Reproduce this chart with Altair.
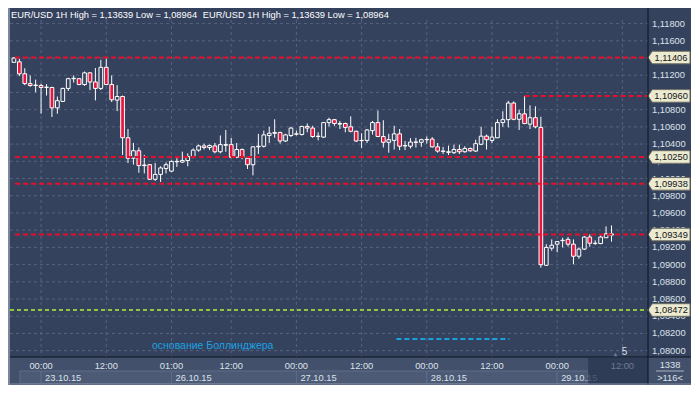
import altair as alt
import pandas as pd

# ---------------- data ----------------
idx = list(range(-5, 106))
open_ = [1.11350, 1.11356, 1.11217, 1.11103, 1.11081, 1.11081, 1.11058, 1.11058, 1.10821, 1.10896,
         1.11047, 1.11160, 1.11160, 1.11092, 1.11228, 1.11122, 1.11047, 1.11292, 1.11092, 1.10911,
         1.10953, 1.10474, 1.10236, 1.10323, 1.10150, 1.10161, 1.09991, 1.10048, 1.10116, 1.10086,
         1.10199, 1.10191, 1.10209, 1.10255, 1.10330, 1.10379, 1.10360, 1.10379, 1.10311, 1.10394,
         1.10394, 1.10247, 1.10337, 1.10236, 1.10160, 1.10368, 1.10375, 1.10500, 1.10526, 1.10534,
         1.10436, 1.10500, 1.10519, 1.10511, 1.10605, 1.10586, 1.10488, 1.10481, 1.10650, 1.10684,
         1.10639, 1.10639, 1.10601, 1.10549, 1.10443, 1.10443, 1.10556, 1.10650, 1.10488, 1.10421,
         1.10443, 1.10519, 1.10379, 1.10375, 1.10424, 1.10421, 1.10451, 1.10458, 1.10368, 1.10319,
         1.10311, 1.10300, 1.10337, 1.10311, 1.10349, 1.10319, 1.10398, 1.10492, 1.10443, 1.10473,
         1.10650, 1.10684, 1.10877, 1.10688, 1.10752, 1.10632, 1.10707, 1.10594, 1.08992, 1.09191,
         1.09237, 1.09282, 1.09293, 1.09237, 1.09097, 1.09180, 1.09320, 1.09248, 1.09244, 1.09312,
         1.09342]
high = [1.11412, 1.11394, 1.11281, 1.11198, 1.11149, 1.11103, 1.11096, 1.11066, 1.10953, 1.11055,
        1.11171, 1.11198, 1.11168, 1.11243, 1.11232, 1.11284, 1.11379, 1.11394, 1.11198, 1.11085,
        1.10964, 1.10576, 1.10414, 1.10361, 1.10274, 1.10165, 1.10180, 1.10142, 1.10187, 1.10210,
        1.10236, 1.10312, 1.10292, 1.10349, 1.10394, 1.10405, 1.10394, 1.10413, 1.10500, 1.10564,
        1.10473, 1.10413, 1.10349, 1.10247, 1.10375, 1.10519, 1.10556, 1.10601, 1.10688, 1.10545,
        1.10519, 1.10601, 1.10556, 1.10613, 1.10639, 1.10613, 1.10537, 1.10658, 1.10707, 1.10692,
        1.10669, 1.10650, 1.10722, 1.10556, 1.10526, 1.10575, 1.10669, 1.10790, 1.10677, 1.10519,
        1.10613, 1.10575, 1.10436, 1.10469, 1.10473, 1.10462, 1.10488, 1.10481, 1.10413, 1.10368,
        1.10383, 1.10394, 1.10394, 1.10375, 1.10360, 1.10451, 1.10601, 1.10511, 1.10601, 1.10688,
        1.10782, 1.10903, 1.10896, 1.10801, 1.10960, 1.10850, 1.10839, 1.10718, 1.09237, 1.09293,
        1.09274, 1.09312, 1.09320, 1.09293, 1.09199, 1.09331, 1.09350, 1.09282, 1.09339, 1.09444,
        1.09455]
low = [1.11345, 1.11190, 1.11085, 1.11066, 1.11002, 1.10753, 1.10964, 1.10715, 1.10753, 1.10890,
       1.11017, 1.11115, 1.11085, 1.11077, 1.11028, 1.10907, 1.11028, 1.11085, 1.10889, 1.10783,
       1.10274, 1.10180, 1.10161, 1.10067, 1.10059, 1.09984, 1.09972, 1.09961, 1.10059, 1.10074,
       1.10135, 1.10180, 1.10142, 1.10236, 1.10311, 1.10337, 1.10330, 1.10292, 1.10292, 1.10311,
       1.10236, 1.10236, 1.10224, 1.10111, 1.10036, 1.10285, 1.10360, 1.10413, 1.10473, 1.10405,
       1.10424, 1.10481, 1.10500, 1.10500, 1.10537, 1.10473, 1.10443, 1.10473, 1.10605, 1.10613,
       1.10575, 1.10537, 1.10537, 1.10424, 1.10356, 1.10413, 1.10511, 1.10481, 1.10360, 1.10300,
       1.10337, 1.10330, 1.10330, 1.10349, 1.10360, 1.10368, 1.10405, 1.10360, 1.10300, 1.10285,
       1.10273, 1.10285, 1.10285, 1.10300, 1.10311, 1.10308, 1.10387, 1.10337, 1.10413, 1.10473,
       1.10601, 1.10594, 1.10677, 1.10564, 1.10632, 1.10575, 1.10583, 1.08965, 1.08984, 1.09161,
       1.09143, 1.09199, 1.09210, 1.09003, 1.09067, 1.09169, 1.09207, 1.09229, 1.09237, 1.09312,
       1.09267]
close = [1.11400, 1.11217, 1.11103, 1.11081, 1.11085, 1.11058, 1.11062, 1.10821, 1.10904, 1.11047,
         1.11160, 1.11165, 1.11092, 1.11228, 1.11122, 1.11047, 1.11292, 1.11092, 1.10915, 1.10953,
         1.10474, 1.10236, 1.10323, 1.10150, 1.10157, 1.09991, 1.10048, 1.10123, 1.10161, 1.10199,
         1.10195, 1.10210, 1.10255, 1.10330, 1.10379, 1.10360, 1.10383, 1.10311, 1.10394, 1.10387,
         1.10247, 1.10337, 1.10247, 1.10160, 1.10368, 1.10375, 1.10507, 1.10526, 1.10534, 1.10436,
         1.10507, 1.10586, 1.10515, 1.10605, 1.10586, 1.10488, 1.10492, 1.10650, 1.10684, 1.10639,
         1.10632, 1.10594, 1.10549, 1.10436, 1.10440, 1.10564, 1.10650, 1.10488, 1.10421, 1.10451,
         1.10519, 1.10375, 1.10383, 1.10424, 1.10421, 1.10451, 1.10454, 1.10368, 1.10319, 1.10315,
         1.10304, 1.10337, 1.10311, 1.10349, 1.10322, 1.10405, 1.10492, 1.10451, 1.10481, 1.10650,
         1.10684, 1.10877, 1.10688, 1.10752, 1.10639, 1.10707, 1.10601, 1.08999, 1.09199, 1.09225,
         1.09267, 1.09278, 1.09237, 1.09097, 1.09180, 1.09320, 1.09248, 1.09244, 1.09320, 1.09357,
         1.09357]

level_price = [1.11406, 1.10960, 1.10250, 1.09938, 1.09349]
level_from = [-4.8, 89, -4.8, -4.8, -4.8]
support_price = [1.08472]
price_ticks = [1.080, 1.082, 1.084, 1.086, 1.088, 1.090, 1.092, 1.094, 1.096, 1.098,
               1.100, 1.102, 1.104, 1.106, 1.108, 1.110, 1.112, 1.114, 1.116, 1.118]
tick_idx = [0, 12, 24, 35, 47, 59, 71, 83, 95, 107]
tick_lbl = ["00:00", "12:00", "01:00", "12:00", "00:00", "12:00", "00:00", "12:00", "00:00", "12:00"]
date_from = [-3.9, 0, 24, 47, 71, 95]
date_to = [0, 24, 47, 71, 95, 100.7]
date_lbl = ["", "23.10.15", "26.10.15", "27.10.15", "28.10.15", "29.10.15"]
title_txt = "EUR/USD 1H High = 1,13639 Low = 1,08964"
boll_txt = "основание Боллинджера"

# ---------------- style ----------------
W, H = 638, 337
BG = "#35425e"
GRID = "#56637e"
BAND = "#43506b"
BOX = "#4c5a76"
BOXS = "#5f6c88"
DARK = "#2b3750"
LBL = "#dde2ea"
RED = "#e2102a"
CRED = "#e8163e"
GREEN = "#8ec63f"
CYAN = "#1ba1e2"
FONT = "Liberation Sans"
FS = 9.3

xs = alt.Scale(domain=[-4.8, 110.8], nice=False, zero=False)
ys = alt.Scale(domain=[1.07926, 1.11842], nice=False, zero=False)

candles = pd.DataFrame({"idx": idx, "open": open_, "high": high, "low": low, "close": close})
levels = pd.DataFrame({"price": level_price, "x0": level_from})
support = pd.DataFrame({"price": support_price})
tags = pd.DataFrame({"price": level_price + support_price})
ticks = pd.DataFrame({"idx": tick_idx, "lbl": tick_lbl})
pticks = pd.DataFrame({"p": price_ticks})
dates = pd.DataFrame({"a": date_from, "b": date_to, "lbl": date_lbl})
one = pd.DataFrame({"k": [0]})

band = alt.Chart(one).mark_rect(fill=BAND).encode(
    x=alt.value(-2), x2=alt.value(W + 43), y=alt.value(H), y2=alt.value(H + 28))

boxes = alt.Chart(dates).mark_rect(fill=BOX, stroke=BOXS, strokeWidth=1).encode(
    x=alt.X("a:Q", scale=xs, axis=None), x2="b:Q",
    y=alt.value(H + 14), y2=alt.value(H + 26.5))

date_text = alt.Chart(dates).mark_text(align="left", dx=4, baseline="middle",
                                       font=FONT, fontSize=FS, color=LBL).encode(
    x=alt.X("a:Q", scale=xs, axis=None), y=alt.value(H + 20.5), text="lbl:N")

dark = alt.Chart(pd.DataFrame({"a": [100.7]})).mark_rect(fill=DARK, opacity=0.8).encode(
    x=alt.X("a:Q", scale=xs, axis=None), x2=alt.value(W),
    y=alt.value(H + 1), y2=alt.value(H + 26.5))

time_text = alt.Chart(ticks).mark_text(align="center", baseline="middle",
                                       font=FONT, fontSize=FS).encode(
    x=alt.X("idx:Q", scale=xs, axis=None), y=alt.value(H + 8.5), text="lbl:N",
    color=alt.condition("datum.idx > 100", alt.value("#6f7b92"), alt.value(LBL)))

# grid and price labels drawn with the shared scales
hgrid = alt.Chart(pticks).mark_rule(color=GRID, strokeWidth=1, strokeDash=[3, 3]).encode(
    x=alt.value(0), x2=alt.value(W), y=alt.Y("p:Q", scale=ys, axis=None))
vgrid = alt.Chart(ticks).mark_rule(color=GRID, strokeWidth=1, strokeDash=[3, 3]).encode(
    x=alt.X("idx:Q", scale=xs, axis=None), y=alt.value(0), y2=alt.value(H))
ylabels = alt.Chart(pticks).transform_calculate(
    lbl="replace(format(datum.p, '.5f'), '.', ',')").mark_text(
    align="left", baseline="middle", font=FONT, fontSize=FS, color=LBL).encode(
    x=alt.value(W + 4), y=alt.Y("p:Q", scale=ys, axis=None), text="lbl:N")

wicks = alt.Chart(candles).mark_rule(color="white", strokeWidth=1, clip=True).encode(
    x=alt.X("idx:Q", scale=xs, axis=None),
    y=alt.Y("low:Q", scale=ys, axis=None), y2="high:Q")

bodies = alt.Chart(candles).mark_bar(size=3.7, stroke="white", strokeWidth=1, clip=True).encode(
    x=alt.X("idx:Q", scale=xs, axis=None),
    y=alt.Y("open:Q", scale=ys, axis=None), y2="close:Q",
    fill=alt.condition("datum.close < datum.open", alt.value(CRED), alt.value(BG)))

level_rules = alt.Chart(levels).mark_rule(color=RED, strokeWidth=2, strokeDash=[5, 3]).encode(
    x=alt.X("x0:Q", scale=xs, axis=None), x2=alt.value(W),
    y=alt.Y("price:Q", scale=ys, axis=None))

support_rule = alt.Chart(support).mark_rule(color=GREEN, strokeWidth=2, strokeDash=[4, 3]).encode(
    x=alt.value(0), x2=alt.value(W), y=alt.Y("price:Q", scale=ys, axis=None))

boll_seg = alt.Chart(pd.DataFrame({"a": [65.4], "b": [86.2], "p": [1.08136]})).mark_rule(
    color=CYAN, strokeWidth=2, strokeDash=[5, 3]).encode(
    x=alt.X("a:Q", scale=xs, axis=None), x2="b:Q", y=alt.Y("p:Q", scale=ys, axis=None))

boll_text = alt.Chart(pd.DataFrame({"a": [20.4], "p": [1.08053], "t": [boll_txt]})).mark_text(
    align="left", baseline="middle", font=FONT, fontSize=10.5, color=CYAN).encode(
    x=alt.X("a:Q", scale=xs, axis=None), y=alt.Y("p:Q", scale=ys, axis=None), text="t:N")

TAG_PATH = "M -1 0 L -0.8 -0.3 L 1 -0.3 L 1 0.3 L -0.8 0.3 Z"
tag_shapes = alt.Chart(tags).mark_point(shape=TAG_PATH, size=1764, filled=True, fill="#ecebd2",
                                       stroke="#6b6b5e", strokeWidth=1, opacity=1).encode(
    x=alt.value(W + 21), y=alt.Y("price:Q", scale=ys, axis=None))

tag_text = alt.Chart(tags).transform_calculate(
    lbl="replace(format(datum.price, '.5f'), '.', ',')").mark_text(
    align="center", baseline="middle", font=FONT, fontSize=FS, color="#141414").encode(
    x=alt.value(W + 23), y=alt.Y("price:Q", scale=ys, axis=None), text="lbl:N")

vsep = alt.Chart(one).mark_rule(color="#0d1220", strokeWidth=1).encode(
    x=alt.value(W), y=alt.value(-12), y2=alt.value(H + 28))
hsep = alt.Chart(one).mark_rule(color="#0d1220", strokeWidth=1).encode(
    x=alt.value(-2), x2=alt.value(W + 43), y=alt.value(H))
bottom_edge = alt.Chart(one).mark_rule(color="#7f899c", strokeWidth=1).encode(
    x=alt.value(-2), x2=alt.value(W + 43), y=alt.value(H + 27))
left_edge = alt.Chart(one).mark_rule(color="#7d879b", strokeWidth=2).encode(
    x=alt.value(-1), y=alt.value(-12), y2=alt.value(H + 28))

titles = alt.Chart(pd.DataFrame({"t": [title_txt]})).mark_text(
    align="left", baseline="middle", font=FONT, fontSize=FS, color="white").encode(
    x=alt.value(1), y=alt.value(-5.5), text="t:N")
titles2 = alt.Chart(pd.DataFrame({"t": [title_txt]})).mark_text(
    align="left", baseline="middle", font=FONT, fontSize=FS, color="white").encode(
    x=alt.value(192.8), y=alt.value(-5.5), text="t:N")

five = alt.Chart(pd.DataFrame({"t": ["5"]})).mark_text(
    align="center", baseline="middle", font=FONT, fontSize=10, color=LBL).encode(
    x=alt.value(614.5), y=alt.value(332), text="t:N")
tri = alt.Chart(one).mark_point(shape="triangle-up", size=18, filled=True,
                                color="#6c7790", opacity=1).encode(
    x=alt.value(605.5), y=alt.value(334.5))

corner1 = alt.Chart(pd.DataFrame({"t": ["1338"]})).mark_text(
    align="center", baseline="middle", font=FONT, fontSize=FS, color=LBL).encode(
    x=alt.value(W + 22), y=alt.value(H + 7.5), text="t:N")
corner2 = alt.Chart(pd.DataFrame({"t": [">116<"]})).mark_text(
    align="center", baseline="middle", font=FONT, fontSize=FS, color=LBL).encode(
    x=alt.value(W + 22), y=alt.value(H + 20.5), text="t:N")
corner_line = alt.Chart(one).mark_rule(color="#aab2c2", strokeWidth=1).encode(
    x=alt.value(W + 8), x2=alt.value(W + 36), y=alt.value(H + 14))

chart = alt.layer(
    band, boxes, date_text, dark, time_text,
    hgrid, vgrid, ylabels,
    wicks, bodies, level_rules, support_rule, boll_seg, boll_text,
    tag_shapes, tag_text, vsep, hsep, bottom_edge, left_edge,
    titles, titles2, five, tri, corner1, corner2, corner_line
).properties(
    width=W, height=H,
    padding={"left": 2, "top": 12, "right": 43, "bottom": 28},
    autosize=alt.AutoSizeParams(type="none"),
    background=BG,
).configure_view(stroke=None)

chart.save("out.html", embed_options={"renderer": "svg", "actions": False})
